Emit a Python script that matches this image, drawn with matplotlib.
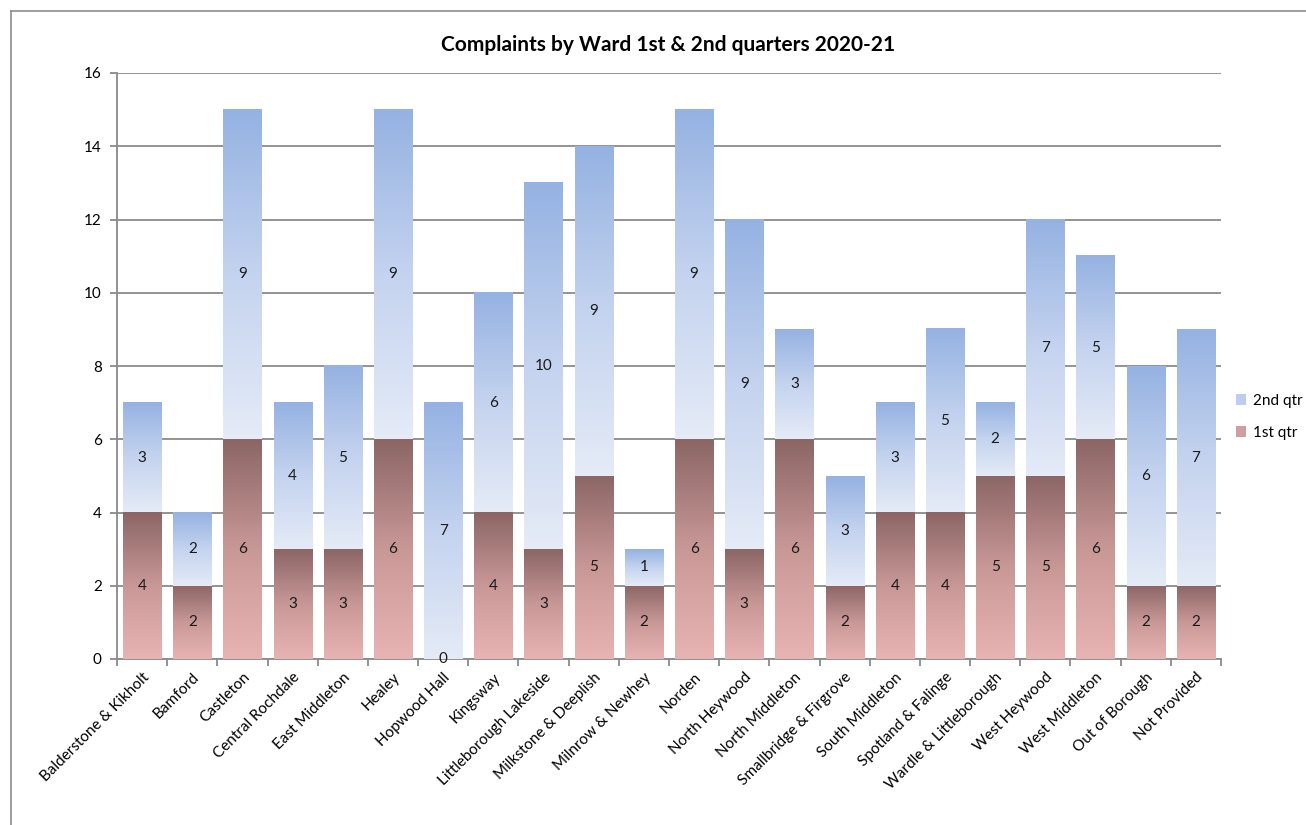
import numpy as np
import matplotlib
matplotlib.use("Agg")
import matplotlib.pyplot as plt
from matplotlib.colors import LinearSegmentedColormap
from matplotlib.patches import Patch
from matplotlib.lines import Line2D

wards = ["Balderstone & Kikholt", "Bamford", "Castleton", "Central Rochdale",
         "East Middleton", "Healey", "Hopwood Hall", "Kingsway",
         "Littleborough Lakeside", "Milkstone & Deeplish", "Milnrow & Newhey",
         "Norden", "North Heywood", "North Middleton", "Smallbridge & Firgrove",
         "South Middleton", "Spotland & Falinge", "Wardle & Littleborough",
         "West Heywood", "West Middleton", "Out of Borough", "Not Provided"]
q1 = [4, 2, 6, 3, 3, 6, 0, 4, 3, 5, 2, 6, 3, 6, 2, 4, 4, 5, 5, 6, 2, 2]
q2 = [3, 2, 9, 4, 5, 9, 7, 6, 10, 9, 1, 9, 9, 3, 3, 3, 5, 2, 7, 5, 6, 7]
series_names = ["1st qtr", "2nd qtr"]
title = "Complaints by Ward 1st & 2nd quarters 2020-21"

plt.rcParams['font.family'] = ['Lato', 'DejaVu Sans']

W, H = 1306, 825
fig = plt.figure(figsize=(W / 100, H / 100), dpi=100)
ax = fig.add_axes([117 / W, 1 - 659 / H, (1221 - 117) / W, (659 - 73) / H])

# outer chart frame
fig.add_artist(Line2D([11 / W, 1], [1 - 11 / H, 1 - 11 / H], color="#8c8c8c", lw=1.2))
fig.add_artist(Line2D([11 / W, 11 / W], [0, 1 - 11 / H], color="#8c8c8c", lw=1.2))

cmap_q1 = LinearSegmentedColormap.from_list("q1", ["#e8b4b3", "#c89897", "#8b6665"])
cmap_q2 = LinearSegmentedColormap.from_list("q2", ["#e5ebf7", "#c4d3ef", "#95b2e2"])
grad = np.linspace(0, 1, 256).reshape(-1, 1)

x = np.arange(len(wards))
width = 0.76
ax.set_xlim(-0.5, len(wards) - 0.5)
ax.set_ylim(0, 16)

bottoms = np.zeros(len(wards))
for vals, cmap in ((q1, cmap_q1), (q2, cmap_q2)):
    for xi, b, v in zip(x, bottoms, vals):
        if v > 0:
            ax.imshow(grad, cmap=cmap, origin="lower", aspect="auto",
                      extent=[xi - width / 2, xi + width / 2, b, b + v],
                      zorder=3, interpolation="bilinear")
        ax.text(xi, b + v / 2, str(v), ha="center", va="center",
                fontsize=11, color="#1a1a1a", zorder=5)
    bottoms = bottoms + np.array(vals)

ax.set_xlim(-0.5, len(wards) - 0.5)
ax.set_ylim(0, 16)
ax.set_yticks(range(0, 17, 2))
ax.yaxis.grid(True, color="#8a8a8a", lw=1.3)
ax.set_axisbelow(True)

ax.set_xticks(x)
ax.set_xticklabels(wards, rotation=45, ha="right", rotation_mode="anchor",
                   fontsize=11)
ax.tick_params(axis="x", length=0, pad=8)
ax.set_xticks(np.arange(-0.5, len(wards)), minor=True)
ax.tick_params(axis="x", which="minor", length=5, color="#8a8a8a", width=1.3)
ax.tick_params(axis="y", length=5, color="#8a8a8a", width=1.3, labelsize=11, pad=6)

for side in ("top", "right"):
    ax.spines[side].set_visible(False)
for side in ("left", "bottom"):
    ax.spines[side].set_color("#8a8a8a")
    ax.spines[side].set_linewidth(1.3)

fig.text(668 / W, 1 - 45 / H, title, ha="center", va="center",
         fontsize=15, fontweight="bold")

handles = [Patch(facecolor="#bccdee", edgecolor="none"),
           Patch(facecolor="#cf9f9f", edgecolor="none")]
fig.legend(handles, [series_names[1], series_names[0]], loc="center left",
           bbox_to_anchor=(1222 / W, 1 - 417 / H), frameon=False,
           fontsize=11, handlelength=0.7, handleheight=0.7,
           handletextpad=0.4, labelspacing=1.2)

fig.savefig("out.png", dpi=100, facecolor="white")
